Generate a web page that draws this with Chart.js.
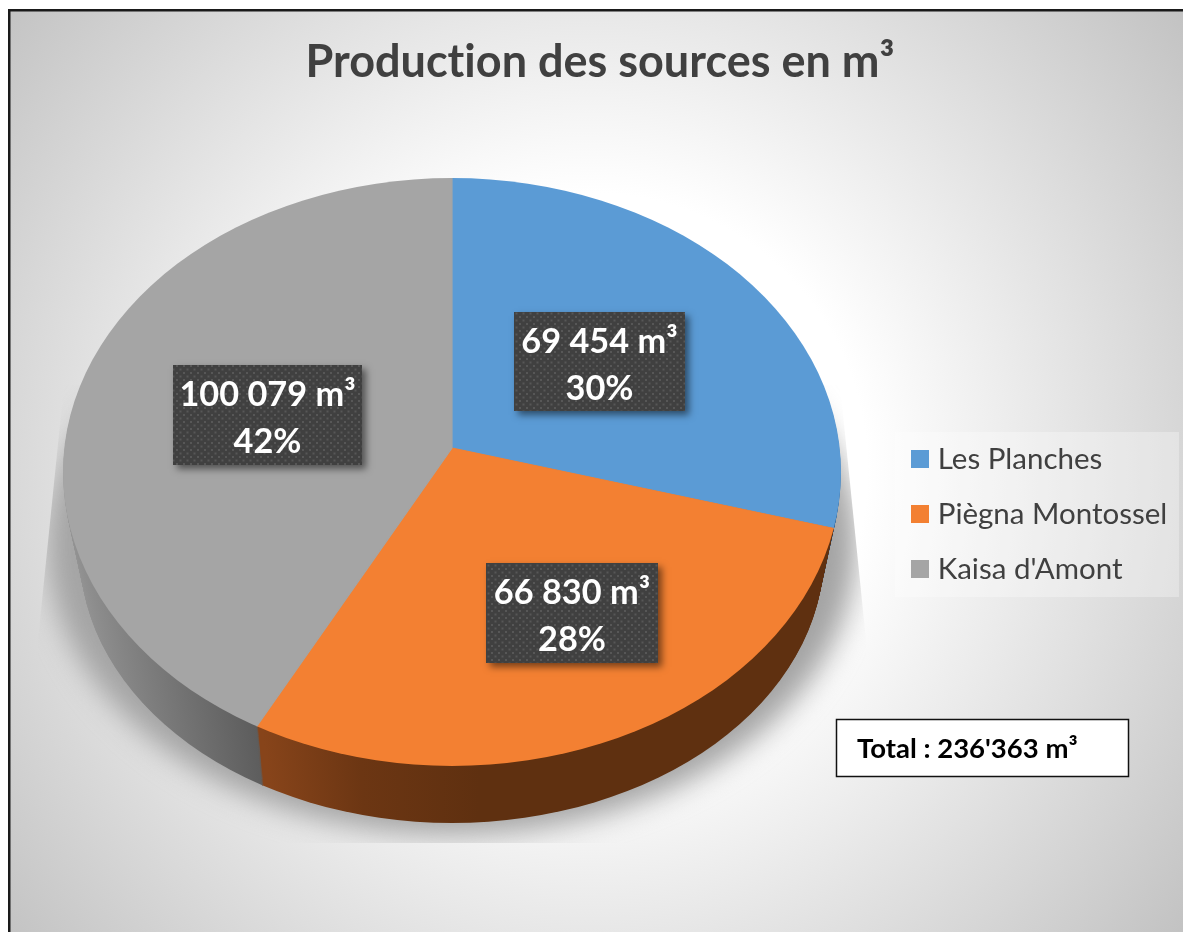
<!DOCTYPE html>
<html><head><meta charset="utf-8">
<style>html,body{margin:0;padding:0;background:#fff}canvas{display:block}</style>
<script src="https://cdn.jsdelivr.net/npm/chart.js@4"></script>
</head><body><canvas id="c" width="1183" height="932"></canvas>
<script>
const categories = ["Les Planches", "Piègna Montossel", "Kaisa d'Amont"];
const volumes = [69454, 66830, 100079];
const valueLabels = ["69 454 m³", "66 830 m³", "100 079 m³"];
const percentLabels = ["30%", "28%", "42%"];
const totalLabel = "Total : 236'363 m³";
const titleText = "Production des sources en m³";
const sliceColors = ["#5b9bd5", "#f38032", "#a5a5a5"];

const W = 1183, H = 932, FONT = "Lato, Carlito, sans-serif";
// projection of the flat pie: apex, oversize radii, and the rim ellipse that clips them
const AX = 452, AY = 448, SCALE_X = 520, SCALE_Y = 387;
const RIM_CY = 472, RIM_RX = 389, RIM_RY = 294;
const WALL = { rx: 17, ry: 24, cy: 81, apex: 67, shrink: 0.044, layers: 60 };
const labelBoxes = [[514,312,171,99],[486,563,172,100],[173,365,189,100]];

function place(ctx, arc, t, fn) {
  const R = arc.outerRadius, k = 1 - WALL.shrink * t;
  ctx.save();
  ctx.beginPath();
  ctx.ellipse(AX, RIM_CY + WALL.cy * t, RIM_RX - WALL.rx * t, RIM_RY - WALL.ry * t, 0, 0, Math.PI * 2);
  ctx.clip();
  ctx.translate(AX, AY + WALL.apex * t);
  ctx.scale(SCALE_X * k / R, SCALE_Y * k / R);
  ctx.translate(-arc.x, -arc.y);
  fn();
  ctx.restore();
}
function localGradient(ctx, arc, x0, x1, stops) {
  const k = arc.outerRadius / SCALE_X;
  const g = ctx.createLinearGradient((x0 - AX) * k + arc.x, 0, (x1 - AX) * k + arc.x, 0);
  stops.forEach(s => g.addColorStop(s[0], s[1]));
  return g;
}
function dotPattern(ctx) {
  const p = document.createElement('canvas'); p.width = 7; p.height = 7;
  const c = p.getContext('2d');
  c.fillStyle = '#404040'; c.fillRect(0, 0, 7, 7);
  c.fillStyle = '#575757'; c.fillRect(1, 1, 2, 2); c.fillRect(4.5, 4.5, 2, 2);
  return ctx.createPattern(p, 'repeat');
}

const scene = {
  id: 'scene',
  beforeDraw(chart) {
    const ctx = chart.ctx;
    ctx.textRendering = 'optimizeSpeed';
    ctx.save();
    ctx.fillStyle = '#fff'; ctx.fillRect(0, 0, W, H);
    const g = ctx.createRadialGradient(590, 470, 0, 590, 470, 770);
    g.addColorStop(0, '#ffffff'); g.addColorStop(0.36, '#ffffff'); g.addColorStop(1, '#c0c0c0');
    ctx.fillStyle = g; ctx.fillRect(10, 11, W, H);
    ctx.fillStyle = '#1a1a1a'; ctx.fillRect(8, 9, W, 2.5); ctx.fillRect(8, 9, 2.5, H);
    ctx.fillStyle = 'rgba(255,255,255,0.3)'; ctx.fillRect(895, 432, 284, 165);
    ctx.restore();
  },
  afterLayout(chart) {
    const leg = chart.legend, t = chart.titleBlock;
    const w = leg.right - leg.left, h = leg.bottom - leg.top;
    leg.left = 891.5; leg.right = 891.5 + w + 40;
    leg.top = 418.75; leg.bottom = 418.75 + h + 60;
    const tw = t.right - t.left;
    t.left = 600 - tw / 2; t.right = 600 + tw / 2; t.top = 62 - t.height / 2; t.bottom = t.top + t.height;
  },
  beforeDatasetsDraw(chart) {
    const ctx = chart.ctx, arcs = chart.getDatasetMeta(0).data, a0 = arcs[0];
    // soft ground shadow, clipped like the reference plot frame
    ctx.save();
    ctx.beginPath();
    ctx.moveTo(64, 385); ctx.lineTo(840, 385); ctx.lineTo(866, 640); ctx.lineTo(866, 843);
    ctx.lineTo(38, 843); ctx.lineTo(38, 640); ctx.closePath(); ctx.clip();
    ctx.filter = 'blur(14px)';
    ctx.fillStyle = '#a4a4a4';
    ctx.beginPath(); ctx.ellipse(AX, 545, 405, 290, 0, 0, Math.PI * 2); ctx.fill();
    ctx.filter = 'none';
    ctx.restore();

    // side wall
    const walls = [
      localGradient(ctx, a0, 800, 845, [[0, '#2a5c8c'], [1, '#2f6090']]),
      localGradient(ctx, a0, 262, 480, [[0, '#87441a'], [0.45, '#6c3613'], [1, '#5f3010']]),
      localGradient(ctx, a0, 63, 262, [[0, '#949494'], [1, '#5b5b5b']])
    ];
    for (let n = WALL.layers; n >= 1; n--) {
      const t = n / WALL.layers;
      arcs.forEach((arc, i) => {
        const s = Object.create(arc);
        s.options = {...arc.options, backgroundColor: walls[i], borderColor: walls[i]};
        place(ctx, arc, t, () => s.draw(ctx));
      });
    }
    // top face
    arcs.forEach(arc => place(ctx, arc, 0, () => arc.draw(ctx)));

    // value labels
    const pat = dotPattern(ctx);
    labelBoxes.forEach((b, i) => {
      ctx.save();
      ctx.shadowColor = 'rgba(0,0,0,0.5)'; ctx.shadowBlur = 7; ctx.shadowOffsetX = 4; ctx.shadowOffsetY = 4;
      ctx.fillStyle = '#404040'; ctx.fillRect(b[0], b[1], b[2], b[3]);
      ctx.shadowColor = 'transparent';
      ctx.fillStyle = pat; ctx.fillRect(b[0], b[1], b[2], b[3]);
      ctx.fillStyle = '#fff'; ctx.font = 'bold 34.3px ' + FONT;
      ctx.textAlign = 'center'; ctx.textBaseline = 'middle';
      ctx.fillText(valueLabels[i], b[0] + b[2] / 2, b[1] + 30);
      ctx.fillText(percentLabels[i], b[0] + b[2] / 2, b[1] + 77);
      ctx.restore();
    });

    // total box
    ctx.save();
    ctx.fillStyle = '#fff'; ctx.fillRect(836, 719, 293, 58);
    ctx.strokeStyle = '#111'; ctx.lineWidth = 1.5; ctx.strokeRect(836.5, 719.5, 292, 57);
    ctx.fillStyle = '#000'; ctx.font = 'bold 27.5px ' + FONT;
    ctx.textAlign = 'left'; ctx.textBaseline = 'middle';
    ctx.fillText(totalLabel, 857, 749);
    ctx.restore();
    return false;
  }
};

new Chart(document.getElementById('c'), {
  type: 'pie',
  data: { labels: categories, datasets: [{ data: volumes, backgroundColor: sliceColors, borderColor: sliceColors, borderWidth: 1 }] },
  plugins: [scene],
  options: {
    responsive: false, animation: false, devicePixelRatio: 1,
    layout: { padding: 0 },
    plugins: {
      tooltip: { enabled: false },
      title: { display: true, text: titleText, color: '#404040', padding: 0, font: { family: FONT, size: 45, weight: 'bold', lineHeight: 1.2 } },
      legend: {
        display: true, position: 'right', align: 'start',
        labels: {
          boxWidth: 6, boxHeight: 6, padding: 25.5, color: '#404040',
          font: { family: FONT, size: 29.5, lineHeight: 1 },
          generateLabels(chart) {
            return Chart.overrides.pie.plugins.legend.labels.generateLabels(chart)
              .map(it => ({ ...it, strokeStyle: it.fillStyle, lineWidth: 12 }));
          }
        }
      }
    }
  }
});
</script></body></html>
